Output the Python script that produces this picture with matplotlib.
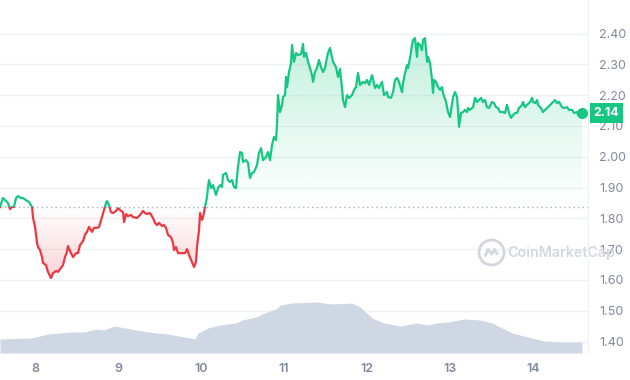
import numpy as np
import matplotlib.pyplot as plt
from matplotlib.patches import PathPatch, Rectangle
from matplotlib.path import Path

plt.rcParams['font.family'] = ['Inter', 'DejaVu Sans']

# price (day of month, USD)
days = [7.578, 7.614, 7.650, 7.674, 7.698, 7.723, 7.747, 7.771, 7.795, 7.831, 7.855, 7.891, 7.927, 7.964, 7.976,
        8.000, 8.024, 8.036, 8.060, 8.084, 8.096, 8.132, 8.156, 8.192, 8.217, 8.253, 8.277, 8.313, 8.337, 8.361,
        8.385, 8.397, 8.433, 8.458, 8.494, 8.518, 8.542, 8.578, 8.602, 8.626, 8.650, 8.686, 8.711, 8.747, 8.771,
        8.807, 8.831, 8.855, 8.867, 8.891,
        8.915, 8.939, 8.976, 9.000, 9.036, 9.060, 9.072, 9.096, 9.120, 9.156, 9.180, 9.229, 9.265, 9.301, 9.325,
        9.349, 9.385, 9.421, 9.445, 9.470, 9.494, 9.530, 9.554, 9.578, 9.602, 9.638, 9.662, 9.674, 9.698, 9.723,
        9.771, 9.807, 9.831, 9.855, 9.891, 9.915, 9.939, 9.951, 9.976, 9.988, 10.012, 10.024, 10.048, 10.072,
        10.084, 10.096, 10.120, 10.144, 10.180, 10.205, 10.229, 10.253, 10.265, 10.301, 10.325, 10.349, 10.373,
        10.397, 10.421, 10.445, 10.470, 10.494, 10.506, 10.542, 10.566, 10.590, 10.614, 10.638, 10.674, 10.698,
        10.723, 10.747, 10.783, 10.807, 10.831, 10.855, 10.879, 10.903, 10.915, 10.927,
        10.951, 10.976, 10.988, 11.012, 11.024, 11.036, 11.060, 11.084, 11.096, 11.120, 11.144, 11.168, 11.205,
        11.229, 11.241, 11.265, 11.289, 11.301, 11.337, 11.349, 11.373, 11.397, 11.421, 11.445, 11.470, 11.494,
        11.518, 11.530, 11.554, 11.578, 11.590, 11.626, 11.650, 11.674, 11.698, 11.711, 11.735, 11.759, 11.783,
        11.819, 11.843, 11.867, 11.891, 11.915, 11.951, 11.976, 12.000, 12.024, 12.060,
        12.096, 12.120, 12.144, 12.180, 12.205, 12.241, 12.253, 12.289, 12.313, 12.337, 12.361, 12.385, 12.421,
        12.433, 12.458, 12.482, 12.494, 12.518, 12.542, 12.554, 12.578, 12.602, 12.614, 12.638, 12.662, 12.674,
        12.698, 12.723, 12.735, 12.759, 12.783, 12.795, 12.807, 12.831, 12.855, 12.879, 12.903, 12.915, 12.951,
        12.976, 13.000, 13.024, 13.036, 13.060, 13.084, 13.096, 13.108, 13.132, 13.156, 13.180, 13.205, 13.217,
        13.241, 13.277, 13.301, 13.325, 13.349,
        13.373, 13.397, 13.421, 13.445, 13.470, 13.506, 13.530, 13.554, 13.578, 13.602, 13.638, 13.662, 13.686,
        13.711, 13.735, 13.759, 13.783, 13.807, 13.831, 13.867, 13.879, 13.903, 13.927, 13.964, 13.988, 14.000,
        14.024, 14.048, 14.060, 14.096, 14.120, 14.144, 14.168, 14.205, 14.241, 14.265, 14.289, 14.313, 14.349,
        14.373, 14.409, 14.433, 14.470, 14.494, 14.530, 14.542, 14.590]
prices = [1.837, 1.866, 1.856, 1.850, 1.830, 1.837, 1.837, 1.866, 1.872, 1.866, 1.866, 1.859, 1.853, 1.837, 1.801,
          1.772, 1.720, 1.707, 1.697, 1.674, 1.655, 1.648, 1.626, 1.606, 1.622, 1.629, 1.626, 1.639, 1.648, 1.674,
          1.691, 1.710, 1.687, 1.674, 1.687, 1.687, 1.713, 1.726, 1.746, 1.756, 1.772, 1.756, 1.769, 1.769, 1.772,
          1.804, 1.827, 1.850, 1.856, 1.843,
          1.820, 1.817, 1.824, 1.833, 1.824, 1.820, 1.788, 1.814, 1.807, 1.811, 1.804, 1.801, 1.811, 1.824, 1.817,
          1.814, 1.817, 1.801, 1.785, 1.778, 1.785, 1.775, 1.778, 1.769, 1.746, 1.739, 1.720, 1.697, 1.707, 1.687,
          1.687, 1.687, 1.700, 1.681, 1.658, 1.642, 1.658, 1.707, 1.762, 1.817, 1.795, 1.804, 1.837, 1.869,
          1.902, 1.924, 1.898, 1.908, 1.876, 1.898, 1.908, 1.902, 1.941, 1.947, 1.924, 1.918, 1.924,
          1.902, 1.898, 1.967, 2.015, 2.012, 1.983, 1.989, 1.980, 1.931, 1.947, 1.950, 1.973, 2.012,
          2.028, 1.989, 1.999, 2.015, 1.989, 2.038, 2.064, 2.054, 2.103, 2.200,
          2.145, 2.168, 2.194, 2.200, 2.259, 2.226, 2.275, 2.304, 2.363, 2.308, 2.337, 2.330, 2.333,
          2.366, 2.324, 2.337, 2.308, 2.298, 2.265, 2.243, 2.275, 2.288, 2.314, 2.291, 2.275, 2.288,
          2.324, 2.337, 2.353, 2.324, 2.308, 2.291, 2.259, 2.285, 2.223, 2.184, 2.161, 2.200, 2.191,
          2.200, 2.217, 2.226, 2.272, 2.233, 2.243, 2.239, 2.249, 2.233, 2.265,
          2.223, 2.233, 2.223, 2.243, 2.200, 2.210, 2.194, 2.191, 2.210, 2.249, 2.256, 2.243, 2.210,
          2.239, 2.272, 2.298, 2.288, 2.321, 2.363, 2.379, 2.385, 2.324, 2.369, 2.363, 2.346, 2.379,
          2.385, 2.308, 2.324, 2.304, 2.249, 2.207, 2.249, 2.243, 2.226, 2.217, 2.226, 2.207, 2.178,
          2.145, 2.129, 2.174, 2.194, 2.210, 2.194, 2.152, 2.097, 2.142, 2.145, 2.152, 2.145, 2.158,
          2.152, 2.161, 2.191, 2.178, 2.184,
          2.191, 2.178, 2.184, 2.161, 2.158, 2.178, 2.174, 2.161, 2.158, 2.145, 2.145, 2.142, 2.168,
          2.142, 2.126, 2.135, 2.142, 2.142, 2.158, 2.168, 2.178, 2.161, 2.168, 2.178, 2.191, 2.178,
          2.174, 2.184, 2.168, 2.158, 2.145, 2.152, 2.158, 2.168, 2.178, 2.184, 2.174, 2.178, 2.161,
          2.158, 2.161, 2.152, 2.152, 2.142, 2.145, 2.135, 2.142]

# volume (USD millions)
vol_days = [7.578, 7.964, 8.156, 8.301, 8.421, 8.590, 8.735, 8.831, 8.952, 9.024, 9.217, 9.361, 9.602, 9.795,
            9.928, 9.964, 10.084, 10.229, 10.422, 10.494, 10.663, 10.759, 10.904, 10.952, 11.096, 11.386, 11.578,
            11.819, 11.916, 12.060, 12.205, 12.398, 12.590, 12.735, 12.831, 12.976, 13.169, 13.361, 13.506,
            13.747, 13.940, 14.133, 14.325, 14.590]
volumes = [84, 90, 114, 120, 126, 126, 144, 138, 162, 156, 138, 126, 114, 96,
           84, 120, 150, 168, 180, 198, 216, 240, 264, 288, 300, 306, 294,
           300, 276, 210, 180, 162, 180, 168, 180, 186, 204, 198, 180,
           120, 96, 72, 66, 66]

open_price = 1.838
last_label = "2.14"
day_ticks = [8, 9, 10, 11, 12, 13, 14]
price_ticks = [1.40, 1.50, 1.60, 1.70, 1.80, 1.90, 2.00, 2.10, 2.20, 2.30, 2.40]

GREEN = '#16c784'
RED = '#ea3943'
GREY = '#808a9d'

days = np.array(days)
prices = np.array(prices)
x0, x1 = 7.578, 14.662
y0, y1 = 1.3627, 2.5088

fig = plt.figure(figsize=(6.3, 3.8), dpi=100)
ax = fig.add_axes([0, 27 / 380, 588 / 630, 353 / 380])


def gradient_fill(lower, upper, rgb, ylo, yhi, alo, ahi):
    poly = ax.fill_between(days, lower, upper, facecolor='none', edgecolor='none')
    path = poly.get_paths()[0]
    a = np.linspace(alo, ahi, 256)
    img = np.zeros((256, 1, 4))
    img[..., :3] = rgb
    img[..., 3] = a[:, None]
    im = ax.imshow(img, extent=(days[0], days[-1], ylo, yhi), origin='lower',
                   aspect='auto', zorder=1, interpolation='bilinear')
    patch = PathPatch(path, transform=ax.transData, fc='none', ec='none')
    ax.add_patch(patch)
    im.set_clip_path(patch)


green_rgb = np.array([22, 199, 132]) / 255
red_rgb = np.array([234, 57, 67]) / 255
gradient_fill(open_price, np.maximum(prices, open_price), green_rgb, open_price, prices.max(), 0.0, 0.26)
gradient_fill(np.minimum(prices, open_price), open_price, red_rgb, prices.min(), open_price, 0.22, 0.0)

# line: green above the open price, red below
lg, = ax.plot(days, prices, color=GREEN, lw=1.6, zorder=3, solid_joinstyle='round')
lg.set_clip_path(Rectangle((x0, open_price), x1 - x0, 5, transform=ax.transData))
lr, = ax.plot(days, prices, color=RED, lw=1.6, zorder=3, solid_joinstyle='round')
lr.set_clip_path(Rectangle((x0, 0), x1 - x0, open_price, transform=ax.transData))
ax.plot(days[-1], prices[-1], 'o', ms=7, color=GREEN, zorder=4)

ax.axhline(open_price, color='#a6b0c3', lw=1, ls=(0, (1, 2.3)), zorder=2)

ax.set_yticks(price_ticks)
ax.set_yticklabels(['%.2f' % v for v in price_ticks])
ax.set_xticks(day_ticks)
ax.set_xticklabels([str(d) for d in day_ticks], fontweight='semibold')
ax.grid(axis='y', color='#eff2f5', lw=1, zorder=0)
ax.set_axisbelow(True)

# volume on its own scale at the bottom
ax2 = ax.twinx()
ax2.fill_between(vol_days, 0, volumes, color='#cfd6e4', lw=0)
ax2.set_ylim(0, 2118)
ax2.set_yticks([])
for s in ax2.spines.values():
    s.set_visible(False)

ax.yaxis.tick_right()
ax.tick_params(axis='y', length=0, pad=8, labelsize=9, labelcolor=GREY)
ax.tick_params(axis='x', length=0, pad=7, labelsize=9, labelcolor=GREY)
for s in ['top', 'left', 'bottom']:
    ax.spines[s].set_visible(False)
ax.spines['right'].set_color('#eff2f5')

ax.set_xlim(x0, x1)
ax.set_ylim(y0, y1)

# current price tag
ax.annotate(last_label, xy=(1, prices[-1]), xycoords=('axes fraction', 'data'),
            xytext=(4, 0), textcoords='offset points', ha='left', va='center',
            fontsize=9, fontweight='bold', color='white', annotation_clip=False,
            bbox=dict(boxstyle='square,pad=0.3', fc=GREEN, ec='none'), zorder=6)

# watermark
wm = '#d3d7de'
logo = Path([(-0.55, -0.35), (-0.3, 0.3), (0.0, -0.15), (0.25, 0.3), (0.45, -0.1), (0.6, -0.05)])
ax.plot(0.835, 0.285, marker='o', ms=18, mfc='none', mec=wm, mew=2, transform=ax.transAxes, zorder=1)
ax.plot(0.835, 0.285, marker=logo, ms=10, mfc='none', mec=wm, mew=2, transform=ax.transAxes, zorder=1)
ax.text(0.862, 0.285, 'CoinMarketCap', transform=ax.transAxes, fontsize=10.3, fontweight='semibold',
        color=wm, va='center', ha='left', zorder=1)

fig.savefig('out.png', dpi=100)
